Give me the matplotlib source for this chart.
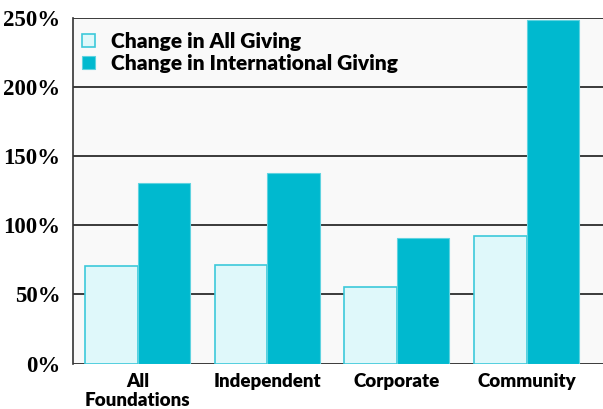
import matplotlib.pyplot as plt
import numpy as np

categories = ["All\nFoundations", "Independent", "Corporate", "Community"]
all_giving = [70.5, 71.5, 55.5, 92.5]
intl_giving = [130.5, 137.5, 90.5, 248]
series_names = ["Change in All Giving", "Change in International Giving"]

light = "#dff8fa"
light_edge = "#3cc9da"
dark = "#00b9cf"

fig = plt.figure(figsize=(6.03, 4.09), dpi=100)
ax = fig.add_axes([0.121, 0.111, 0.879, 0.846])
ax.set_facecolor("#f9f9f9")

x = np.arange(len(categories))
w = 0.405
ax.bar(x - w / 2, all_giving, w, color=light, edgecolor=light_edge, linewidth=1.2,
       label=series_names[0], zorder=3)
ax.bar(x + w / 2, intl_giving, w, color=dark, edgecolor="#5fd3e0", linewidth=0.8,
       label=series_names[1], zorder=3)

ax.set_ylim(0, 250)
ax.set_xlim(-0.5, 3.59)
ax.set_yticks([0, 50, 100, 150, 200, 250])
ax.set_yticklabels([f"{v}%" for v in range(0, 251, 50)],
                   family="Liberation Serif", fontweight="bold", fontsize=16.5)
ax.set_xticks(x)
ax.set_xticklabels(categories, family="Lato", fontweight="heavy", fontsize=13.5,
                   linespacing=1.15, va="top")
ax.tick_params(axis="both", length=0)
ax.tick_params(axis="y", pad=9)
ax.tick_params(axis="x", pad=7)

ax.grid(axis="y", color="#3a3a3a", linewidth=1.4, zorder=1)
for s in ["right", "bottom", "top"]:
    ax.spines[s].set_visible(False)
ax.spines["left"].set_color("#333333")
ax.spines["left"].set_linewidth(1.2)

ax.legend(loc="upper left", bbox_to_anchor=(-0.006, 0.995), frameon=False,
          prop={"family": "Lato", "weight": "heavy", "size": 15},
          handlelength=0.6, handleheight=0.6, handletextpad=0.8, labelspacing=0.15,
          borderaxespad=0.3, borderpad=0.3)

fig.savefig("out.png", dpi=100)
